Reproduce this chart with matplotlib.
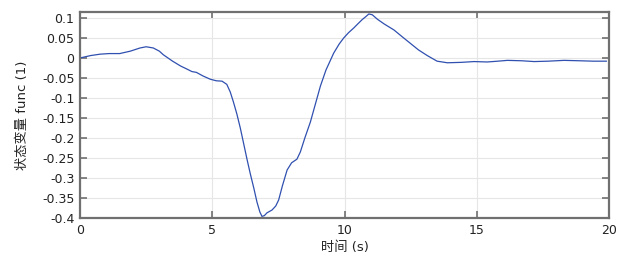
import matplotlib
matplotlib.use("Agg")
import matplotlib.pyplot as plt

plt.rcParams['font.family'] = ['DejaVu Sans', 'Noto Sans CJK SC']

time_s = [0.0, 0.4, 0.76, 1.1, 1.5, 1.9, 2.27, 2.5, 2.77, 3.0, 3.15, 3.5, 3.8, 4.05, 4.23, 4.4, 4.65,
          4.92, 5.15, 5.37, 5.55, 5.68, 5.8, 5.93, 6.06, 6.19, 6.32, 6.44, 6.57, 6.69, 6.8, 6.88,
          6.97, 7.07, 7.26, 7.4, 7.51, 7.65, 7.83, 8.0, 8.2, 8.33, 8.5, 8.71, 8.9, 9.09, 9.3,
          9.59, 9.8, 9.97, 10.15, 10.35, 10.5, 10.67, 10.8, 10.92, 11.05, 11.24, 11.5, 11.87,
          12.2, 12.5, 12.8, 13.13, 13.5, 13.89, 14.4, 14.9, 15.4, 15.8, 16.16, 16.7, 17.17,
          17.7, 18.3, 18.9, 19.4, 19.9]
func_vals = [0.0, 0.006, 0.0095, 0.011, 0.011, 0.017, 0.025, 0.028, 0.025, 0.017, 0.008, -0.008, -0.02, -0.028, -0.034, -0.036, -0.045,
             -0.053, -0.057, -0.058, -0.066, -0.085, -0.11, -0.14, -0.175, -0.215, -0.255, -0.29, -0.325, -0.36, -0.385, -0.396,
             -0.394, -0.387, -0.38, -0.37, -0.355, -0.32, -0.28, -0.262, -0.253, -0.235, -0.2, -0.16, -0.115, -0.07, -0.03,
             0.012, 0.035, 0.05, 0.063, 0.075, 0.085, 0.096, 0.103, 0.11, 0.108, 0.097, 0.085, 0.07,
             0.052, 0.036, 0.02, 0.006, -0.008, -0.012, -0.011, -0.009, -0.01, -0.008, -0.006, -0.007, -0.009,
             -0.008, -0.006, -0.007, -0.008, -0.008]

x_ticks = [0, 5, 10, 15, 20]
y_ticks = [0.1, 0.05, 0, -0.05, -0.1, -0.15, -0.2, -0.25, -0.3, -0.35, -0.4]
y_tick_labels = ['0.1', '0.05', '0', '-0.05', '-0.1', '-0.15', '-0.2', '-0.25', '-0.3', '-0.35', '-0.4']

fig = plt.figure(figsize=(6.17, 2.60), dpi=100)
ax = fig.add_axes([0.1297, 0.1615, 0.8573, 0.7925])
ax.plot(time_s, func_vals, color='#3050b0', lw=0.9)
ax.set_xlim(0, 20)
ax.set_ylim(-0.4, 0.115)
ax.set_xticks(x_ticks)
ax.set_xticklabels([str(v) for v in x_ticks])
ax.set_yticks(y_ticks)
ax.set_yticklabels(y_tick_labels)
ax.grid(True, color='#e6e6e6', lw=0.8)
ax.tick_params(direction='in', length=5, width=1.2, color='#707070', labelsize=9,
               top=True, right=True, labelcolor='#222222', pad=4)
for s in ax.spines.values():
    s.set_color('#707070')
    s.set_linewidth(1.6)
ax.set_xlabel('时间 (s)', fontsize=9.5, labelpad=3, color='#222222')
ax.set_ylabel('状态变量 func (1)', fontsize=9.5, labelpad=9, color='#222222')
fig.savefig('out.png', dpi=100)
